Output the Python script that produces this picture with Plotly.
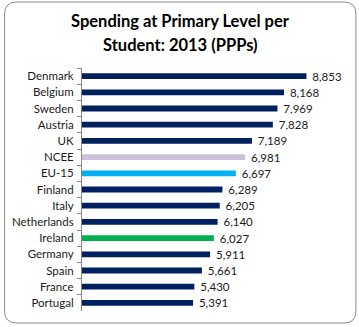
import plotly.graph_objects as go

countries = ["Denmark", "Belgium", "Sweden", "Austria", "UK", "NCEE", "EU-15",
             "Finland", "Italy", "Netherlands", "Ireland", "Germany", "Spain",
             "France", "Portugal"]
values = [8853, 8168, 7969, 7828, 7189, 6981, 6697, 6289, 6205, 6140, 6027,
          5911, 5661, 5430, 5391]
title_lines = ["Spending at Primary Level per", "Student: 2013 (PPPs)"]
NAVY = "#002060"
highlight = {"NCEE": "#CCC0DA", "EU-15": "#00B0F0", "Ireland": "#00B050"}
colors = [highlight.get(c, NAVY) for c in countries]

W, H = 359, 327
L, R, T, B = 80, 15, 68, 16
pw, ph = W - L - R, H - T - B

def px(x):
    return (x - L) / pw

def py(y):
    return (H - B - y) / ph

# rounded border
x0, x1, y0, y1, r = 2, 356, 2, 323, 12
path = (f"M {px(x0+r)},{py(y0)} L {px(x1-r)},{py(y0)} "
        f"Q {px(x1)},{py(y0)} {px(x1)},{py(y0+r)} "
        f"L {px(x1)},{py(y1-r)} Q {px(x1)},{py(y1)} {px(x1-r)},{py(y1)} "
        f"L {px(x0+r)},{py(y1)} Q {px(x0)},{py(y1)} {px(x0)},{py(y1-r)} "
        f"L {px(x0)},{py(y0+r)} Q {px(x0)},{py(y0)} {px(x0+r)},{py(y0)} Z")

fig = go.Figure(go.Bar(
    y=countries, x=values, orientation="h",
    marker=dict(color=colors, line=dict(width=0)),
    text=values, texttemplate="\u00a0\u00a0%{x:,}", textposition="outside",
    constraintext="none",
    textfont=dict(family="Lato", size=11.5, color="#1a1a1a"),
    cliponaxis=False,
))

annotations = [
    dict(text=f"<b>{t}</b>", xref="paper", yref="paper", x=px(179.5), y=py(yc),
         xanchor="center", yanchor="middle", showarrow=False,
         font=dict(family="Lato", size=16.5, color="black"))
    for t, yc in zip(title_lines, [21, 45])
]

fig.update_layout(
    width=W, height=H,
    margin=dict(l=L, r=R, t=T, b=B),
    paper_bgcolor="white", plot_bgcolor="white",
    font=dict(family="Lato", size=12, color="#1a1a1a"),
    bargap=0.64,
    showlegend=False,
    annotations=annotations,
    shapes=[dict(type="path", path=path, xref="paper", yref="paper",
                 line=dict(color="#8c8c8c", width=1), layer="below")],
)
fig.update_xaxes(range=[2000, 10000], visible=False, showgrid=False)
fig.update_yaxes(autorange="reversed", showline=True, linecolor="#868686",
                 linewidth=1, ticks="outside", ticklen=4, tickcolor="#868686",
                 tickson="boundaries", showgrid=False, ticklabelstandoff=5,
                 tickfont=dict(family="Lato", size=11.5, color="#1a1a1a"))

fig.write_html("out.html")
